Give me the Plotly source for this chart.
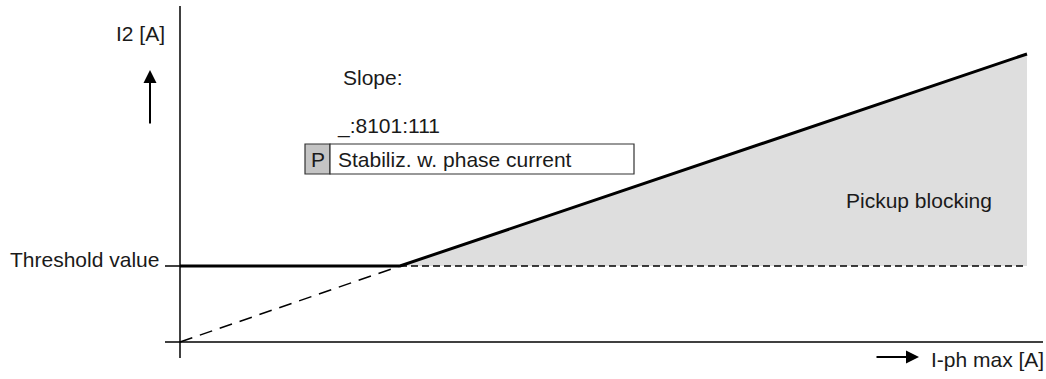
import plotly.graph_objects as go

# characteristic values (threshold units)
threshold = 1.0
kink_x = 1.0
end_x = 3.85
end_y = 3.79

W, H = 1046, 379
OX, OY = 180, 342      # pixel position of origin
SX, SY = 220, 76       # pixels per unit


def px(x):
    return (x - OX) / SX


def py(y):
    return (OY - y) / SY


FONT = "Liberation Sans, Arial, sans-serif"
TXT = "#1a1a1a"

fig = go.Figure()

# shaded pickup blocking area
fig.add_trace(go.Scatter(
    x=[kink_x, end_x, end_x, kink_x], y=[threshold, end_y, threshold, threshold],
    mode="lines", fill="toself", fillcolor="#dedede",
    line=dict(width=0), hoverinfo="skip"
))

# dashed extension of the slope through origin
fig.add_trace(go.Scatter(
    x=[0, kink_x], y=[0, threshold], mode="lines",
    line=dict(color="black", width=1.5, dash="13px,8px")
))

# dashed threshold continuation
fig.add_trace(go.Scatter(
    x=[kink_x, end_x], y=[threshold, threshold], mode="lines",
    line=dict(color="black", width=1.3, dash="7px,4px")
))

# solid characteristic
fig.add_trace(go.Scatter(
    x=[0, kink_x, end_x], y=[threshold, threshold, end_y], mode="lines",
    line=dict(color="black", width=3)
))

shapes = [
    # axes
    dict(type="line", x0=px(165), x1=px(1043), y0=0, y1=0, line=dict(color="black", width=1.5)),
    dict(type="line", x0=0, x1=0, y0=py(358), y1=py(6), line=dict(color="black", width=1.5)),
    # threshold tick
    dict(type="line", x0=px(165), x1=0, y0=threshold, y1=threshold, line=dict(color="black", width=1.5)),
    # parameter box
    dict(type="rect", x0=px(305), x1=px(330), y0=py(174), y1=py(144),
         fillcolor="#c4c4c4", line=dict(color="#333333", width=1.2)),
    dict(type="rect", x0=px(330), x1=px(634), y0=py(174), y1=py(144),
         fillcolor="white", line=dict(color="#333333", width=1.2)),
]

f = dict(family=FONT, size=21, color=TXT)
annotations = [
    dict(x=px(167), y=py(33), text="I2 [A]", xanchor="right", yanchor="middle"),
    dict(x=px(161), y=py(259), text="Threshold value", xanchor="right", yanchor="middle"),
    dict(x=px(341), y=py(77), text="Slope:", xanchor="left", yanchor="middle"),
    dict(x=px(335), y=py(126), text="_:8101:111", xanchor="left", yanchor="middle"),
    dict(x=px(317.5), y=py(159), text="P", xanchor="center", yanchor="middle"),
    dict(x=px(336), y=py(159), text="Stabiliz. w. phase current", xanchor="left", yanchor="middle"),
    dict(x=px(919), y=py(200), text="Pickup blocking", xanchor="center", yanchor="middle"),
    dict(x=px(929), y=py(359), text="I-ph max [A]", xanchor="left", yanchor="middle"),
]
for a in annotations:
    a.update(showarrow=False, font=f, xref="x", yref="y")

# axis arrows
annotations.append(dict(x=px(150), y=py(70), ax=0, ay=55, xref="x", yref="y", text="",
                        showarrow=True, arrowhead=2, arrowsize=1.3, arrowwidth=2, arrowcolor="black"))
annotations.append(dict(x=px(919), y=py(357), ax=-44, ay=0, xref="x", yref="y", text="",
                        showarrow=True, arrowhead=2, arrowsize=1.3, arrowwidth=2, arrowcolor="black"))

fig.update_layout(
    width=W, height=H, autosize=False,
    margin=dict(l=0, r=0, t=0, b=0),
    plot_bgcolor="white", paper_bgcolor="white",
    showlegend=False,
    xaxis=dict(range=[px(0), px(W)], visible=False, fixedrange=True),
    yaxis=dict(range=[py(H), py(0)], visible=False, fixedrange=True),
    shapes=shapes,
    annotations=annotations,
)

fig.write_html("out.html", config={"displayModeBar": False},
               post_script="document.body.style.margin='0';document.body.style.overflow='hidden';")
